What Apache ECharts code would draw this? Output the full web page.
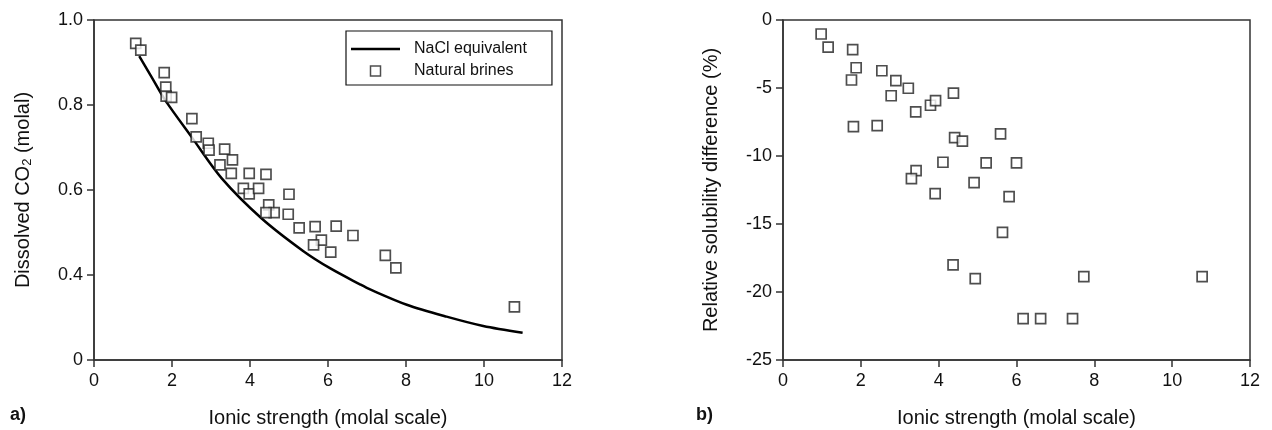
<!DOCTYPE html>
<html>
<head>
<meta charset="utf-8">
<script src="https://cdn.jsdelivr.net/npm/echarts@6/dist/echarts.min.js"></script>
<style>
html,body{margin:0;padding:0;background:#fff;}
#chart{width:1272px;height:430px;}
</style>
</head>
<body>
<div id="chart"></div>
<script>
// ---- data ----
// Panel a): NaCl equivalent curve (ionic strength, dissolved CO2)
const naclX = [1.16, 1.5, 1.82, 2.5, 3.27, 4.3, 5.37, 6.05, 6.82, 7.08, 8.02, 9.04, 9.98, 10.99];
const naclY = [0.915, 0.862, 0.812, 0.725, 0.628, 0.533, 0.456, 0.416, 0.378, 0.366, 0.330, 0.302, 0.280, 0.264];
// Panel a): natural brines
const brineX = [1.07, 1.20, 1.80, 1.84, 1.85, 1.99, 2.51, 2.62, 2.93, 2.95, 3.35, 3.55, 3.23, 3.52, 3.98, 4.41,
                3.83, 3.98, 4.22, 5.00, 4.48, 4.62, 4.41, 4.98, 5.26, 5.67, 6.21, 6.64, 5.83, 5.63, 6.07, 7.47, 7.74, 10.78];
const brineY = [0.945, 0.929, 0.876, 0.842, 0.821, 0.818, 0.768, 0.725, 0.710, 0.694, 0.696, 0.671, 0.659, 0.639, 0.639, 0.637,
                0.604, 0.591, 0.604, 0.590, 0.565, 0.547, 0.547, 0.543, 0.511, 0.514, 0.515, 0.493, 0.482, 0.471, 0.454, 0.446, 0.417, 0.325];
// Panel b): relative solubility difference (%)
const diffX = [0.98, 1.16, 1.79, 1.88, 1.76, 2.54, 2.90, 2.78, 3.22, 3.41, 3.79, 3.92, 4.38, 1.81, 2.42, 4.41, 4.61,
               5.59, 4.11, 5.22, 6.00, 3.42, 3.30, 3.91, 4.91, 5.81, 5.64, 4.37, 4.94, 6.17, 6.62, 7.44, 7.73, 10.77];
const diffY = [-1.03, -2.0, -2.18, -3.51, -4.41, -3.73, -4.46, -5.57, -5.02, -6.76, -6.27, -5.93, -5.37, -7.84, -7.77, -8.65, -8.90,
               -8.38, -10.46, -10.51, -10.51, -11.08, -11.67, -12.77, -11.96, -12.99, -15.61, -18.01, -19.02, -21.96, -21.96, -21.96, -18.87, -18.87];
// Tick labels
const xTicks = [0, 2, 4, 6, 8, 10, 12];
const yTicksA = [0.2, 0.4, 0.6, 0.8, 1.0];
const yTickLabelsA = ['0', '0.4', '0.6', '0.8', '1.0'];
const yTicksB = [-25, -20, -15, -10, -5, 0];
const seriesNames = ['NaCl equivalent', 'Natural brines'];

// ---- chart ----
const FONT = '"Liberation Sans", Arial, sans-serif';
const AXIS_COLOR = '#333';
const zip = (xs, ys) => xs.map((x, i) => [x, ys[i]]);

function xAxis(gridIndex) {
  return {
    type: 'value', gridIndex, min: xTicks[0], max: xTicks[xTicks.length - 1], interval: xTicks[1] - xTicks[0],
    name: 'Ionic strength (molal scale)', nameLocation: 'middle', nameGap: 48,
    nameTextStyle: { fontFamily: FONT, fontSize: 20, color: '#111' },
    axisLine: { show: true, onZero: false, lineStyle: { color: AXIS_COLOR, width: 1.5 } },
    axisTick: { show: true, inside: false, length: 7, lineStyle: { color: AXIS_COLOR, width: 1.5 } },
    axisLabel: { fontFamily: FONT, fontSize: 18, color: '#111', margin: 12, showMinLabel: true, showMaxLabel: true },
    splitLine: { show: false }
  };
}

const sqStyle = { color: '#fff', borderColor: '#222', borderWidth: 1.7 };

const option = {
  animation: false,
  backgroundColor: '#fff',
  grid: [
    { left: 94, top: 20, width: 468, height: 340, show: true, borderColor: AXIS_COLOR, borderWidth: 1.5, outerBoundsMode: 'none', containLabel: false },
    { left: 783, top: 20, width: 467, height: 340, show: true, borderColor: AXIS_COLOR, borderWidth: 1.5, outerBoundsMode: 'none', containLabel: false }
  ],
  xAxis: [xAxis(0), xAxis(1)],
  yAxis: [
    {
      type: 'value', gridIndex: 0, min: yTicksA[0], max: yTicksA[yTicksA.length - 1], interval: 0.2,
      name: 'Dissolved CO{sub|2} (molal)', nameLocation: 'middle', nameGap: 60,
      nameTextStyle: { fontFamily: FONT, fontSize: 20, color: '#111',
        rich: { sub: { fontFamily: FONT, fontSize: 13, color: '#111', padding: [8, 0, 0, 0] } } },
      axisLine: { show: true, onZero: false, lineStyle: { color: AXIS_COLOR, width: 1.5 } },
      axisTick: { show: true, inside: false, length: 7, lineStyle: { color: AXIS_COLOR, width: 1.5 } },
      axisLabel: { fontFamily: FONT, fontSize: 18, color: '#111', margin: 11, showMinLabel: true, showMaxLabel: true,
        formatter: v => { const i = yTicksA.findIndex(t => Math.abs(t - v) < 1e-6); return i >= 0 ? yTickLabelsA[i] : ''; } },
      splitLine: { show: false }
    },
    {
      type: 'value', gridIndex: 1, min: yTicksB[0], max: yTicksB[yTicksB.length - 1], interval: 5,
      name: 'Relative solubility difference (%)', nameLocation: 'middle', nameGap: 62,
      nameTextStyle: { fontFamily: FONT, fontSize: 20, color: '#111' },
      axisLine: { show: true, onZero: false, lineStyle: { color: AXIS_COLOR, width: 1.5 } },
      axisTick: { show: true, inside: false, length: 7, lineStyle: { color: AXIS_COLOR, width: 1.5 } },
      axisLabel: { fontFamily: FONT, fontSize: 18, color: '#111', margin: 11, showMinLabel: true, showMaxLabel: true },
      splitLine: { show: false }
    }
  ],
  legend: {
    left: 346, top: 31, orient: 'vertical',
    data: [
      { name: seriesNames[0], icon: 'path://M0,0H50V2.6H0Z', itemStyle: { color: '#000', borderWidth: 0 } },
      { name: seriesNames[1], icon: 'path://M0,0H10V10H0Z', itemStyle: { color: '#fff', borderColor: '#222', borderWidth: 1.5 } }
    ],
    borderColor: '#111', borderWidth: 1.2, borderRadius: 0,
    padding: [10, 25, 6, 5],
    itemWidth: 49, itemHeight: 10, itemGap: 6,
    symbolKeepAspect: true,
    textStyle: { fontFamily: FONT, fontSize: 16, color: '#111', padding: [0, 0, 0, 9] }
  },
  series: [
    {
      name: seriesNames[0], type: 'line', xAxisIndex: 0, yAxisIndex: 0,
      data: zip(naclX, naclY), symbol: 'none', smooth: 0.3, z: 2,
      lineStyle: { color: '#000', width: 2.5 }, itemStyle: { color: '#000' }
    },
    {
      name: seriesNames[1], type: 'scatter', xAxisIndex: 0, yAxisIndex: 0,
      data: zip(brineX, brineY), symbol: 'rect', symbolSize: 10, z: 3,
      itemStyle: sqStyle
    },
    {
      name: 'Relative difference', type: 'scatter', xAxisIndex: 1, yAxisIndex: 1,
      data: zip(diffX, diffY), symbol: 'rect', symbolSize: 10, z: 3,
      itemStyle: sqStyle
    }
  ],
  graphic: [
    { type: 'text', left: 10, top: 406, style: { text: 'a)', font: 'bold 18px ' + FONT, fill: '#111' } },
    { type: 'text', left: 696, top: 406, style: { text: 'b)', font: 'bold 18px ' + FONT, fill: '#111' } }
  ]
};

const chart = echarts.init(document.getElementById('chart'), null, { renderer: 'canvas' });
chart.setOption(option);
</script>
</body>
</html>
